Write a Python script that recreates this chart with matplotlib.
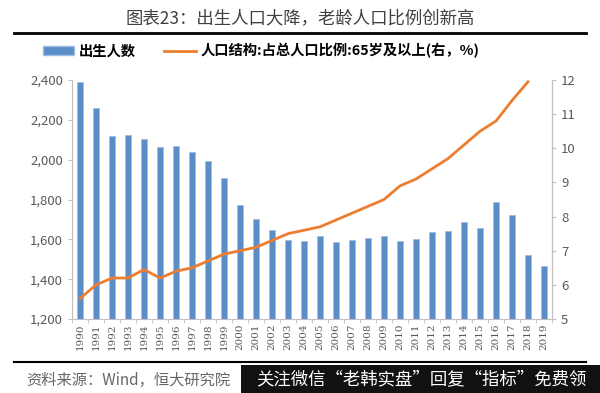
import numpy as np
import matplotlib.pyplot as plt
from matplotlib.patches import Patch, Rectangle
from matplotlib.lines import Line2D
from matplotlib.ticker import FuncFormatter

plt.rcParams['font.family'] = ['Noto Sans CJK SC', 'DejaVu Sans']

# 数据
years = [str(y) for y in range(1990, 2020)]
births = [2391, 2258, 2119, 2126, 2104, 2063, 2067, 2038, 1991, 1909,
          1771, 1702, 1647, 1599, 1593, 1617, 1585, 1595, 1608, 1615,
          1592, 1604, 1635, 1640, 1687, 1655, 1786, 1723, 1523, 1465]
elderly = [5.6, 6.0, 6.2, 6.2, 6.45, 6.2, 6.4, 6.5, 6.7, 6.9,
           7.0, 7.1, 7.3, 7.5, 7.6, 7.7, 7.9, 8.1, 8.3, 8.5,
           8.9, 9.1, 9.4, 9.7, 10.1, 10.5, 10.8, 11.4, 11.95]

grey = '#595959'
bar_c = '#5B8DC9'
line_c = '#ED7D31'

fig = plt.figure(figsize=(6, 3.93), dpi=100)
ax = fig.add_axes([0.12, 0.1883, 0.8, 0.608])
x = np.arange(len(years))
ax.bar(x, births, width=0.4, color=bar_c, edgecolor='#9DBCE3', linewidth=0.5, zorder=2)
ax.set_ylim(1200, 2400)
ax.set_yticks(range(1200, 2401, 200))
ax.yaxis.set_major_formatter(FuncFormatter(lambda v, p: f'{int(v):,}'))
ax.set_xlim(-0.5, len(years) - 0.5)
ax.set_xticks(x)
ax.set_xticklabels(years, rotation=90, fontsize=7.5, color=grey, family='DejaVu Serif')
ax.set_xticks(np.arange(-0.5, len(years), 1), minor=True)
ax.tick_params(axis='x', which='major', length=0, pad=3)
ax.tick_params(axis='x', which='minor', length=3, color='#BFBFBF')
ax.tick_params(axis='y', labelsize=9.5, colors=grey, length=3, color='#BFBFBF')
ax.spines['top'].set_visible(False)
for s in ['left', 'bottom', 'right']:
    ax.spines[s].set_color('#BFBFBF')

ax2 = ax.twinx()
ax2.plot(np.arange(len(elderly)), elderly, color=line_c, linewidth=2, zorder=3)
ax2.set_ylim(5, 12)
ax2.set_yticks(range(5, 13))
ax2.tick_params(axis='y', labelsize=9.5, colors=grey, length=3, color='#BFBFBF')
ax2.spines['top'].set_visible(False)
ax2.spines['right'].set_color('#BFBFBF')
ax2.spines['left'].set_visible(False)
ax2.spines['bottom'].set_visible(False)

# 标题与分隔线
fig.text(0.5, 1 - 19 / 393, '图表23：出生人口大降，老龄人口比例创新高',
         ha='center', va='center', fontsize=12.5, color='#404040', fontweight='light')
fig.add_artist(Line2D([14 / 600, 586 / 600], [1 - 33 / 393] * 2, color='black', linewidth=2))
fig.add_artist(Line2D([14 / 600, 586 / 600], [1 - 362 / 393] * 2, color='black', linewidth=1.5))

# 图例
handles = [Patch(facecolor=bar_c, edgecolor='#9DBCE3'),
           Line2D([0], [0], color=line_c, linewidth=2)]
labels = ['出生人数', '人口结构:占总人口比例:65岁及以上(右，%)']
fig.legend(handles, labels, loc='center', bbox_to_anchor=(0.435, 1 - 51 / 393), ncol=2,
           frameon=False, prop={'family': ['Noto Sans CJK SC'], 'weight': 'bold', 'size': 10.3},
           handlelength=2.2, handleheight=0.6, columnspacing=2.0, handletextpad=0.3)

# 来源
fig.text(26 / 600, 1 - 380 / 393, '资料来源：Wind，恒大研究院', ha='left', va='center',
         fontsize=11, color='#666666', style='italic')
fig.add_artist(Rectangle((241 / 600, 0), 1 - 241 / 600, 28 / 393,
                         transform=fig.transFigure, facecolor='#111111', edgecolor='none'))
fig.text(421 / 600, 1 - 379 / 393, '关注微信“老韩实盘”回复“指标”免费领', ha='center', va='center',
         fontsize=12.5, color='white')

fig.savefig('out.png', dpi=100)
